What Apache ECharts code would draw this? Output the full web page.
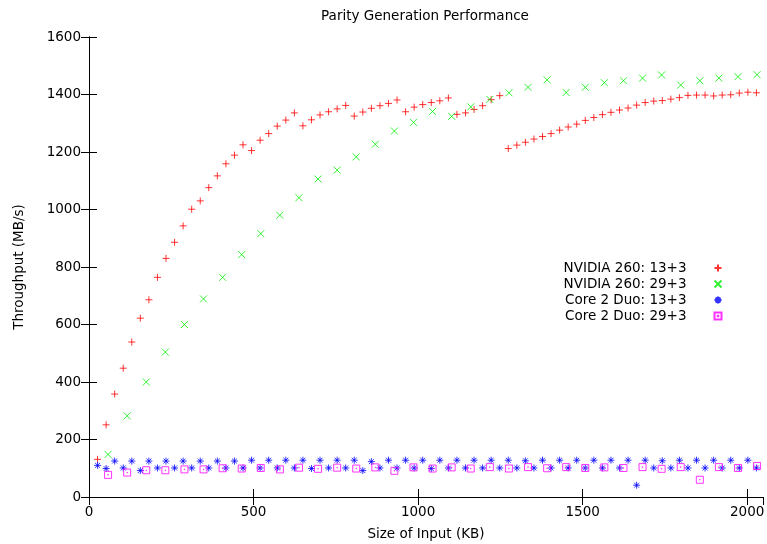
<!DOCTYPE html>
<html>
<head>
<meta charset="utf-8">
<script src="https://cdn.jsdelivr.net/npm/echarts@6/dist/echarts.min.js"></script>
<style>
  html, body { margin: 0; padding: 0; background: #fff; }
  #chart { width: 767px; height: 544px; }
</style>
</head>
<body>
<div id="chart"></div>
<script>
// input sizes (KB) for the 13+3 and 29+3 runs
const sizes13 = [26, 52, 78, 104, 130, 156, 182, 208, 234, 260, 286, 312, 338, 364, 390, 416, 442, 468, 494, 520,
  546, 572, 598, 624, 650, 676, 702, 728, 754, 780, 806, 832, 858, 884, 910, 936, 962, 988, 1014, 1040,
  1066, 1092, 1118, 1144, 1170, 1196, 1222, 1248, 1274, 1300, 1326, 1352, 1378, 1404, 1430, 1456, 1482, 1508, 1534, 1560,
  1586, 1612, 1638, 1664, 1690, 1716, 1742, 1768, 1794, 1820, 1846, 1872, 1898, 1924, 1950, 1976, 2002, 2028];
const sizes29 = [58, 116, 174, 232, 290, 348, 406, 464, 522, 580, 638, 696, 754, 812, 870, 928, 986, 1044, 1102, 1160,
  1218, 1276, 1334, 1392, 1450, 1508, 1566, 1624, 1682, 1740, 1798, 1856, 1914, 1972, 2030];

// throughput (MB/s)
const nvidia13 = [131, 251, 358, 448, 539, 622, 686, 764, 830, 886, 943, 1001, 1030, 1076, 1117, 1159, 1189, 1225, 1205, 1241,
  1264, 1290, 1311, 1336, 1291, 1312, 1329, 1340, 1350, 1362, 1325, 1339, 1352, 1361, 1369, 1381, 1340, 1356, 1365, 1372,
  1378, 1388, 1331, 1336, 1348, 1361, 1382, 1396, 1212, 1224, 1234, 1245, 1254, 1264, 1276, 1287, 1297, 1310, 1320, 1330,
  1338, 1346, 1353, 1363, 1372, 1377, 1379, 1384, 1389, 1397, 1398, 1398, 1395, 1398, 1399, 1405, 1408, 1406];
const nvidia29 = [148, 282, 400, 504, 600, 689, 764, 843, 916, 980, 1041, 1106, 1137, 1183, 1227, 1273, 1303, 1341, 1324, 1357,
  1383, 1406, 1425, 1451, 1407, 1425, 1441, 1448, 1457, 1468, 1433, 1448, 1457, 1462, 1469];
const core13 = [110, 99, 125, 101, 125, 92, 125, 101, 125, 101, 125, 101, 125, 101, 125, 101, 125, 101, 128, 101,
  128, 101, 128, 101, 128, 99, 128, 101, 128, 101, 128, 92, 123, 101, 128, 101, 128, 101, 128, 99,
  128, 101, 128, 101, 128, 101, 128, 101, 128, 101, 126, 101, 128, 101, 128, 101, 128, 101, 128, 101,
  128, 101, 128, 41, 128, 101, 126, 101, 128, 101, 128, 101, 128, 101, 128, 101, 128, 101];
const core29 = [77, 85, 93, 93, 96, 96, 100, 99, 101, 96, 102, 98, 102, 99, 103, 91, 103, 99, 103, 99,
  104, 99, 104, 100, 104, 101, 103, 101, 104, 98, 104, 60, 104, 101, 108];

const seriesNames = ["NVIDIA 260: 13+3", "NVIDIA 260: 29+3", "Core 2 Duo: 13+3", "Core 2 Duo: 29+3"];

const FONT = "DejaVu Sans";
const FS = 13.5;

// gnuplot point types
const symPlus = "path://M0,5L10,5M5,0L5,10";
const symCross = "path://M0,0L10,10M10,0L0,10";
const symStar = "path://M0,5L10,5M5,0L5,10M1.5,1.5L8.5,8.5M8.5,1.5L1.5,8.5";
const symBox = "path://M0,0L10,0L10,10L0,10ZM4.6,4.6L5.4,4.6L5.4,5.4L4.6,5.4Z";

function pts(xs, ys) {
  return xs.map((x, i) => [x, ys[i]]);
}

function scatter(name, xs, ys, symbol, color, size) {
  return {
    type: "scatter",
    name: name,
    data: pts(xs, ys),
    symbol: symbol,
    symbolSize: size,
    itemStyle: { color: "none", borderColor: color, borderWidth: 1 },
    emphasis: { disabled: true },
  };
}

const chart = echarts.init(document.getElementById("chart"));

const axisCommon = {
  axisLine: { show: true, lineStyle: { color: "#000", width: 1 } },
  axisTick: { show: true, inside: true, length: 8, lineStyle: { color: "#000" } },
  splitLine: { show: false },
};

chart.setOption({
  animation: false,
  textStyle: { fontFamily: FONT },
  grid: { left: 89, right: 4, top: 37, bottom: 47, outerBoundsMode: "none", containLabel: false },
  graphic: [
    {
      type: "text",
      x: 425,
      y: 16,
      style: {
        text: "Parity Generation Performance",
        fontFamily: FONT,
        fontSize: FS,
        fill: "#000",
        align: "center",
        verticalAlign: "middle",
      },
    },
  ],
  legend: {
    orient: "vertical",
    right: 38,
    top: 255,
    align: "right",
    itemWidth: 7,
    itemHeight: 7,
    itemGap: 0,
    data: seriesNames,
    textStyle: { fontFamily: FONT, fontSize: FS, color: "#000", lineHeight: 16, padding: [0, 23, 0, 0] },
  },
  xAxis: [
    Object.assign({}, axisCommon, {
      type: "value",
      min: 0,
      max: 2048,
      interval: 500,
      name: "Size of Input (KB)",
      nameLocation: "middle",
      nameGap: 30,
      nameTextStyle: { fontFamily: FONT, fontSize: FS, color: "#000" },
      axisLabel: {
        fontFamily: FONT,
        fontSize: FS,
        color: "#000",
        margin: 8,
        showMaxLabel: false,
        formatter: (v) => String(v),
      },
    }),
    Object.assign({}, axisCommon, {
      type: "value",
      position: "top",
      min: 0,
      max: 2048,
      interval: 500,
      axisLabel: { show: false },
    }),
  ],
  yAxis: [
    Object.assign({}, axisCommon, {
      type: "value",
      min: 0,
      max: 1600,
      interval: 200,
      name: "Throughput (MB/s)",
      nameLocation: "middle",
      nameGap: 63,
      nameTextStyle: { fontFamily: FONT, fontSize: FS, color: "#000" },
      axisLabel: { fontFamily: FONT, fontSize: FS, color: "#000", margin: 8, formatter: (v) => String(v) },
    }),
    Object.assign({}, axisCommon, {
      type: "value",
      position: "right",
      min: 0,
      max: 1600,
      interval: 200,
      axisLabel: { show: false },
    }),
  ],
  series: [
    scatter(seriesNames[0], sizes13, nvidia13, symPlus, "#ff0000", 7),
    scatter(seriesNames[1], sizes29, nvidia29, symCross, "#00ee00", 7),
    scatter(seriesNames[2], sizes13, core13, symStar, "#0000ff", 7),
    scatter(seriesNames[3], sizes29, core29, symBox, "#ff00ff", 7),
  ],
});
</script>
</body>
</html>
